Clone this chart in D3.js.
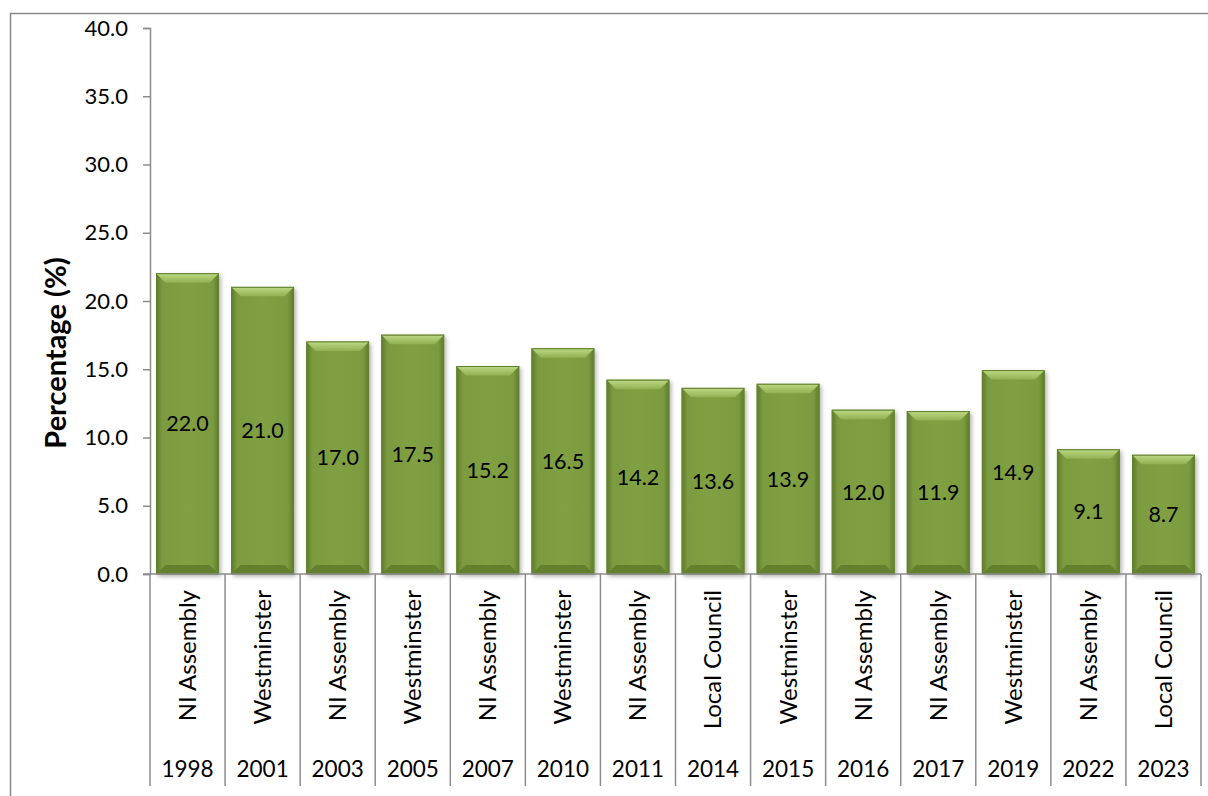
<!DOCTYPE html>
<html>
<head>
<meta charset="utf-8">
<script src="https://cdn.jsdelivr.net/npm/d3@7"></script>
<style>
  html, body { margin: 0; padding: 0; background: #fff; }
  svg { display: block; font-family: Lato, "Open Sans", sans-serif; }
</style>
</head>
<body>
<svg id="chart" width="1208" height="796"></svg>
<script>
// chart data
const years = ['1998', '2001', '2003', '2005', '2007', '2010', '2011', '2014', '2015', '2016', '2017', '2019', '2022', '2023'];
const elections = ['NI Assembly', 'Westminster', 'NI Assembly', 'Westminster', 'NI Assembly', 'Westminster', 'NI Assembly',
    'Local Council', 'Westminster', 'NI Assembly', 'NI Assembly', 'Westminster', 'NI Assembly', 'Local Council'];
const percentages = [22.0, 21.0, 17.0, 17.5, 15.2, 16.5, 14.2, 13.6, 13.9, 12.0, 11.9, 14.9, 9.1, 8.7];
const yTicks = [0, 5, 10, 15, 20, 25, 30, 35, 40];

const margin = {top: 28, left: 150, right: 7, bottom: 222};
const svg = d3.select('#chart');
const width = 1208, height = 796;
const plotW = width - margin.left - margin.right;
const plotH = height - margin.top - margin.bottom;

// outer frame (clipped by the window on right and bottom)
svg.append('path')
    .attr('d', 'M10.5,' + (height + 2) + 'V13.5H' + (width + 2))
    .attr('fill', 'none')
    .attr('stroke', '#888')
    .attr('stroke-width', 1.5);

const idx = d3.range(years.length);
const x = d3.scaleBand().domain(idx).range([0, plotW]).paddingInner(0.175).paddingOuter(0.0875);
const xCat = d3.scaleBand().domain(idx).range([0, plotW]);
const y = d3.scaleLinear().domain([0, 40]).range([plotH, 0]);

const defs = svg.append('defs');
const side = defs.append('linearGradient').attr('id', 'sideGrad').attr('x1', 0).attr('x2', 1).attr('y1', 0).attr('y2', 0);
side.append('stop').attr('offset', '0%').attr('stop-color', '#5f7c2c');
side.append('stop').attr('offset', '9%').attr('stop-color', '#7b9b3f');
side.append('stop').attr('offset', '50%').attr('stop-color', '#80a043');
side.append('stop').attr('offset', '91%').attr('stop-color', '#7b9b3f');
side.append('stop').attr('offset', '100%').attr('stop-color', '#5f7c2c');
const topG = defs.append('linearGradient').attr('id', 'topGrad').attr('x1', 0).attr('x2', 0).attr('y1', 0).attr('y2', 1);
topG.append('stop').attr('offset', '0%').attr('stop-color', '#bcd883');
topG.append('stop').attr('offset', '100%').attr('stop-color', '#92b152');
const shadow = defs.append('filter').attr('id', 'shadow').attr('x', '-20%').attr('y', '-20%').attr('width', '140%').attr('height', '140%');
shadow.append('feDropShadow').attr('dx', 2).attr('dy', 2).attr('stdDeviation', 2).attr('flood-color', '#000').attr('flood-opacity', 0.3);

const g = svg.append('g').attr('transform', 'translate(' + margin.left + ',' + margin.top + ')');

// y axis
const yAxis = g.append('g')
    .call(d3.axisLeft(y).tickValues(yTicks).tickFormat(d3.format('.1f')).tickSize(7).tickPadding(15));
yAxis.select('.domain').attr('stroke', '#8c8c8c').attr('stroke-width', 1.5);
yAxis.selectAll('.tick line').attr('stroke', '#8c8c8c').attr('stroke-width', 1.5);
yAxis.selectAll('.tick text').attr('font-size', 22).attr('fill', '#000').attr('font-family', 'Lato');

// bars
const bars = g.append('g').selectAll('g.bar')
    .data(percentages)
    .join('g')
    .attr('class', 'bar')
    .attr('transform', (d, i) => 'translate(' + x(i) + ',' + y(d) + ')');

const bw = x.bandwidth();
const bev = 9;
bars.append('rect')
    .attr('width', bw)
    .attr('height', d => plotH - y(d))
    .attr('fill', 'url(#sideGrad)')
    .attr('stroke', '#6b8a33')
    .attr('stroke-width', 1)
    .attr('filter', 'url(#shadow)');
// top bevel
bars.append('path')
    .attr('d', 'M0,0H' + bw + 'L' + (bw - bev) + ',' + bev + 'H' + bev + 'Z')
    .attr('fill', 'url(#topGrad)');
// bottom bevel
bars.append('path')
    .attr('d', d => {
        const h = plotH - y(d);
        return 'M0,' + h + 'H' + bw + 'L' + (bw - bev) + ',' + (h - bev) + 'H' + bev + 'Z';
    })
    .attr('fill', '#62802e');
bars.append('rect')
    .attr('width', bw)
    .attr('height', d => plotH - y(d))
    .attr('fill', 'none')
    .attr('stroke', '#62802e')
    .attr('stroke-width', 1);

// value labels in the middle of each bar
bars.append('text')
    .attr('x', bw / 2)
    .attr('y', d => (plotH - y(d)) / 2)
    .attr('dy', '0.35em')
    .attr('text-anchor', 'middle')
    .attr('font-size', 21.5)
    .attr('fill', '#000')
    .text(d => d3.format('.1f')(d));

// x axis: baseline, dividers, two label levels
const xa = g.append('g').attr('transform', 'translate(0,' + plotH + ')');
xa.append('line')
    .attr('x1', -7).attr('x2', plotW)
    .attr('stroke', '#8c8c8c').attr('stroke-width', 1.5);
xa.selectAll('line.div')
    .data(d3.range(years.length + 1))
    .join('line')
    .attr('class', 'div')
    .attr('x1', i => i < years.length ? xCat(i) : plotW)
    .attr('x2', i => i < years.length ? xCat(i) : plotW)
    .attr('y1', 0).attr('y2', 212)
    .attr('stroke', '#8c8c8c').attr('stroke-width', 1.5);
xa.selectAll('text.type')
    .data(elections)
    .join('text')
    .attr('class', 'type')
    .attr('transform', (d, i) => 'translate(' + (xCat(i) + xCat.bandwidth() / 2) + ',16) rotate(-90)')
    .attr('text-anchor', 'end')
    .attr('dy', '0.35em')
    .attr('font-size', 24)
    .attr('fill', '#000')
    .text(d => d);
xa.selectAll('text.year')
    .data(years)
    .join('text')
    .attr('class', 'year')
    .attr('x', (d, i) => xCat(i) + xCat.bandwidth() / 2)
    .attr('y', 195)
    .attr('dy', '0.35em')
    .attr('text-anchor', 'middle')
    .attr('font-size', 22.5)
    .attr('fill', '#000')
    .text(d => d);

// y axis title
svg.append('text')
    .attr('transform', 'translate(56,353) rotate(-90)')
    .attr('text-anchor', 'middle')
    .attr('dy', '0.35em')
    .attr('font-size', 29)
    .attr('font-weight', 'bold')
    .attr('fill', '#000')
    .text('Percentage (%)');
</script>
</body>
</html>
